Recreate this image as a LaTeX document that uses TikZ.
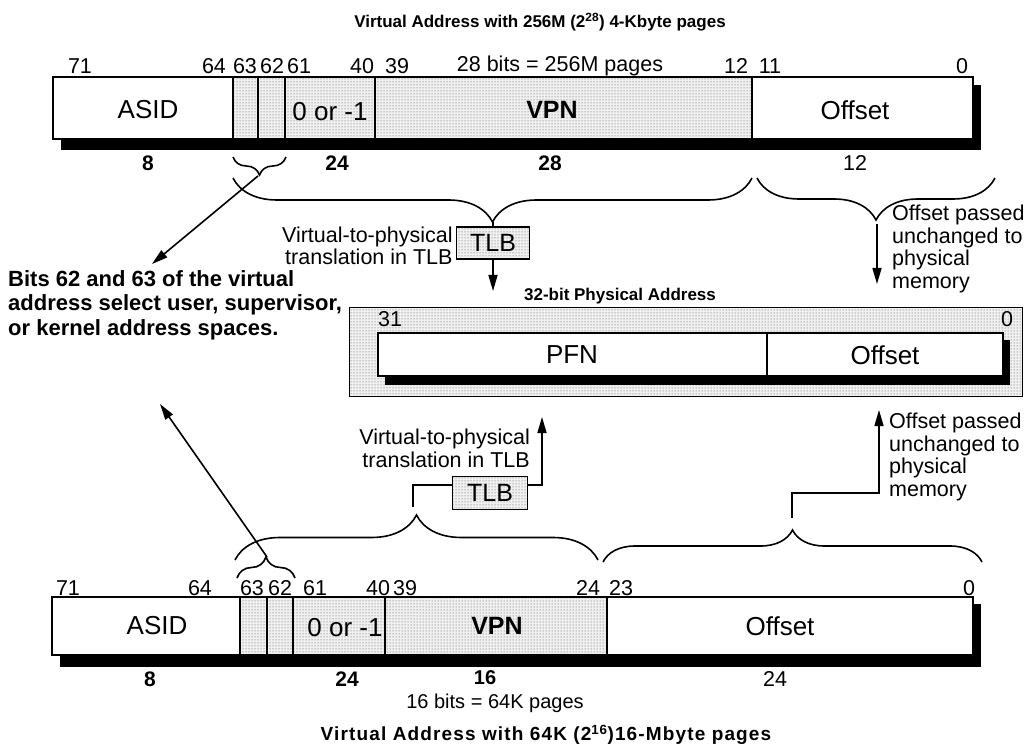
\documentclass[tikz,border=0pt]{standalone}
\usepackage{fontspec}
\setmainfont{Liberation Sans}
\usepackage{tikz}
\usetikzlibrary{arrows.meta,decorations.pathreplacing,patterns,positioning}

\tikzset{
  stip/.style={preaction={fill=black!6}, pattern=dots, pattern color=black!70},
  num/.style={inner sep=0pt, font=\fontsize{21.5}{23}\selectfont},
  bnum/.style={inner sep=0pt, font=\fontsize{21}{23}\selectfont\bfseries},
  fld/.style={inner sep=0pt, font=\fontsize{26}{28}\selectfont},
  bfld/.style={inner sep=0pt, font=\fontsize{25}{28}\selectfont\bfseries},
  ttl/.style={inner sep=0pt, font=\fontsize{17}{20}\selectfont\bfseries},
  note/.style={inner sep=0pt, align=left, font=\fontsize{21.5}{22.5}\selectfont},
  tlb/.style={draw, line width=1.5pt, stip, minimum width=73pt, minimum height=32pt, inner sep=0pt, font=\fontsize{25}{26}\selectfont},
  brc/.style={decorate, line width=1.6pt, decoration={brace, amplitude=#1}},
  arr/.style={line width=1.6pt, -{Triangle[length=16pt,width=9pt]}},
  bar/.style={line width=1.6pt}
}

\begin{document}
\begin{tikzpicture}[x=1pt,y=-1pt]
  \useasboundingbox (0,0) rectangle (1033,751);

  % virtual address, 4-Kbyte pages
  \node (T1) at (540,22) [ttl] {Virtual Address with 256M (2\textsuperscript{28}) 4-Kbyte pages};
  \foreach \x/\lbl in {80/71,214/64,245/63,272/62,299/61,362/40,397/39,736/12,770/11,962/0}
    \node (ta\lbl) at (\x,66) [num] {\lbl};
  \node (T28) at (560,66) [num] {28 bits = 256M pages};
  \fill (61,139) rectangle (981,150);
  \fill (973,85) rectangle (981,150);
  \fill[white] (53,77) rectangle (973,139);
  \fill[stip] (233,77) rectangle (752,139);
  \draw[bar] (53,77) rectangle (973,139);
  \foreach \x in {233,258,285,375,752}
    \draw[bar] (\x,77) -- (\x,139);
  \node (ASID1) at (148,110) [fld] {ASID};
  \node (Z1) at (330,112) [fld] {0 or -1};
  \node (VPN1) at (552,110) [bfld] {VPN};
  \node (OFF1) at (855,110) [fld] {Offset};
  \node (wa8) at (148,163) [bnum] {8};
  \node (wa24) at (337,163) [bnum] {24};
  \node (wa28) at (550,163) [bnum] {28};
  \node (wa12) at (855,163) [num] {12};

  \draw[brc=18] (286,157) -- (233,157);
  \draw[brc=44] (752,178) -- (233,178);
  \draw[brc=42] (995,178) -- (757,178);
  \coordinate (sb1) at (258,176);
  \coordinate (lb1) at (493,222);
  \coordinate (ob1) at (877,224);

  \node (NOTE) at (8,270) [note, anchor=north west, font=\fontsize{22}{24.5}\selectfont\bfseries] {Bits 62 and 63 of the virtual\\address select user, supervisor,\\or kernel address spaces.};
  \coordinate (n1) at (152,264);
  \draw[arr] (sb1) -- (n1);

  \node (TLB1) at (493,243) [tlb] {TLB};
  \node (V1) [note, align=right, left=3pt of TLB1, yshift=-3pt] {Virtual-to-physical\\translation in TLB};
  \draw[line width=1.6pt] (lb1) -- (TLB1);
  \coordinate (pv1) at (493,291);
  \draw[arr] (TLB1) -- (pv1);

  \node (OP1) at (892,205) [note, anchor=north west] {Offset passed\\unchanged to\\physical\\memory};
  \coordinate (po1) at (877,284);
  \draw[arr] (ob1) -- (po1);

  % physical address
  \node (PA) at (620,296) [ttl] {32-bit Physical Address};
  \draw[stip, line width=1pt] (349,307) rectangle (1022,396);
  \fill (385,376) rectangle (1010,385);
  \fill (1003,340) rectangle (1010,385);
  \draw[bar, fill=white] (378,333) rectangle (1003,376);
  \draw[bar] (767,333) -- (767,376);
  \node (p31) at (390,319) [num] {31};
  \node (p0) at (1007,319) [num] {0};
  \node (PFN) at (572,355) [fld] {PFN};
  \node (OFF2) at (885,355) [fld] {Offset};

  % virtual address, 16-Mbyte pages
  \node (TLB2) at (490,493) [tlb, minimum width=75pt, minimum height=33pt] {TLB};
  \node (V2) at (530,429) [note, align=right, anchor=north east] {Virtual-to-physical\\translation in TLB};
  \coordinate (lb2) at (413,507);
  \coordinate (pv2) at (542,417);
  \draw[line width=1.6pt] (lb2) |- ([yshift=8pt]TLB2.west);
  \draw[arr] ([yshift=8pt]TLB2.east) -| (pv2);

  \node (OP2) at (889,413) [note, anchor=north west] {Offset passed\\unchanged to\\physical\\memory};
  \coordinate (ob2) at (792,518);
  \coordinate (po2) at (879,410);
  \draw[arr] (ob2) -- (792,493) -| (po2);

  \draw[brc=21] (237,578) -- (295,578);
  \draw[brc=45] (235,560) -- (598,560);
  \draw[brc=32] (603,562) -- (982,562);
  \coordinate (sb2) at (267,557);
  \coordinate (n2) at (160,404);
  \draw[arr] (sb2) -- (n2);

  \foreach \x/\lbl in {68/71,200/64,252/63,280/62,315/61,378/40,405/39,588/24,621/23,969/0}
    \node (tb\lbl) at (\x,588) [num] {\lbl};
  \fill (60,655) rectangle (981,667);
  \fill (973,604) rectangle (981,667);
  \fill[white] (52,597) rectangle (973,655);
  \fill[stip] (240,597) rectangle (607,655);
  \draw[bar] (52,597) rectangle (973,655);
  \foreach \x in {240,267,293,385,607}
    \draw[bar] (\x,597) -- (\x,655);
  \node (ASID2) at (157,626) [fld] {ASID};
  \node (Z2) at (345,628) [fld] {0 or -1};
  \node (VPN2) at (497,626) [bfld] {VPN};
  \node (OFF3) at (780,626) [fld] {Offset};
  \node (wb8) at (150,679) [bnum] {8};
  \node (wb24) at (347,679) [bnum] {24};
  \node (wb16) at (485,678) [bnum, font=\fontsize{20}{22}\selectfont\bfseries] {16};
  \node (wo24) at (775,679) [num] {24};
  \node (B16) at (495,703) [num, font=\fontsize{20}{22}\selectfont] {16 bits = 64K pages};
  \node (T2) at (546,735) [ttl, font=\fontsize{19}{22}\selectfont\bfseries\addfontfeature{LetterSpace=6}] {Virtual Address with 64K (2\textsuperscript{16})16-Mbyte pages};
\end{tikzpicture}
\end{document}
